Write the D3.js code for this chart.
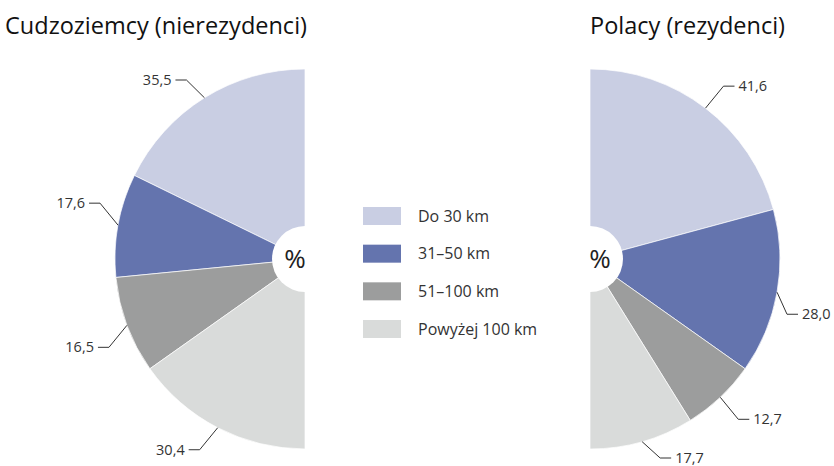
<!DOCTYPE html>
<html>
<head>
<meta charset="utf-8">
<script src="https://cdn.jsdelivr.net/npm/d3@7"></script>
<style>
  body { margin: 0; background: #fff; }
  svg { font-family: "Open Sans", "Noto Sans", sans-serif; }
  .title { font-size: 23.5px; fill: #111; }
  .value-label { font-size: 14.5px; fill: #333; }
  .legend-label { font-size: 16px; fill: #333; }
  .pct { font-size: 26px; fill: #222; }
</style>
</head>
<body>
<div id="chart"></div>
<script>
const categories = ["Do 30 km", "31–50 km", "51–100 km", "Powyżej 100 km"];
const foreignValues = [35.5, 17.6, 16.5, 30.4];
const polishValues = [41.6, 28.0, 12.7, 17.7];
const titles = ["Cudzoziemcy (nierezydenci)", "Polacy (rezydenci)"];
const colors = ["#c9cee3", "#6474ae", "#9c9d9d", "#d9dbda"];

const width = 834;
const height = 466;
const radius = 190;
const holeRadius = 33;
const centerY = 259;

const svg = d3.select('#chart').append('svg')
  .attr('width', width)
  .attr('height', height);

const colorScale = d3.scaleOrdinal().domain(categories).range(colors);
const fmt = v => d3.format('.1f')(v).replace('.', ',');

// left: half pie going counter-clockwise from 12 o'clock, right: clockwise
drawHalfPie(foreignValues, 305, -1, titles[0]);
drawHalfPie(polishValues, 590, 1, titles[1]);
drawLegend();

function drawHalfPie(values, cx, side, title) {
  const pie = d3.pie().sort(null).startAngle(0).endAngle(side * Math.PI);
  const arc = d3.arc().innerRadius(0).outerRadius(radius);
  const slices = pie(values);

  const g = svg.append('g')
    .attr('transform', `translate(${cx},${centerY})`);

  g.selectAll('path.slice')
    .data(slices)
    .enter().append('path')
    .attr('class', 'slice')
    .attr('fill', (d, i) => colorScale(categories[i]))
    .attr('stroke', '#fff')
    .attr('stroke-width', 0.7)
    .attr('d', arc);

  // white hole with the unit
  g.append('circle')
    .attr('r', holeRadius)
    .attr('fill', '#fff');

  g.append('text')
    .attr('class', 'pct')
    .attr('x', side * 10)
    .attr('dy', '0.35em')
    .attr('text-anchor', 'middle')
    .text('%');

  // leader lines: diagonal out of the slice middle, then a short horizontal tick
  const maxOut = side < 0 ? cx - 45 : width - cx - 47;
  const leaders = slices.map(d => {
    const a = (d.startAngle + d.endAngle) / 2;
    const edge = [Math.sin(a) * radius, -Math.cos(a) * radius];
    const up = edge[1] < 0 ? -1 : 1;
    const bend = [edge[0] + side * 18, edge[1] + up * 22];
    bend[1] = Math.max(-centerY + 80, Math.min(height - centerY - 8, bend[1]));
    bend[0] = side * Math.min(Math.abs(bend[0]), maxOut);
    const end = [bend[0] + side * 11, bend[1]];
    return { d, edge, bend, end };
  });

  g.selectAll('polyline.leader')
    .data(leaders)
    .enter().append('polyline')
    .attr('class', 'leader')
    .attr('fill', 'none')
    .attr('stroke', '#333')
    .attr('stroke-width', 1)
    .attr('points', l => [l.edge, l.bend, l.end].map(p => p.join(',')).join(' '));

  g.selectAll('text.value-label')
    .data(leaders)
    .enter().append('text')
    .attr('class', 'value-label')
    .attr('x', l => l.end[0] + side * 4)
    .attr('y', l => l.end[1])
    .attr('dy', '0.35em')
    .attr('text-anchor', side < 0 ? 'end' : 'start')
    .text(l => fmt(l.d.value));

  svg.append('text')
    .attr('class', 'title')
    .attr('x', side < 0 ? cx + 2 : cx)
    .attr('y', 34)
    .attr('text-anchor', side < 0 ? 'end' : 'start')
    .text(title);
}

function drawLegend() {
  const y = d3.scalePoint().domain(categories).range([207, 320]);

  const items = svg.append('g')
    .attr('class', 'legend')
    .selectAll('g')
    .data(categories)
    .enter().append('g')
    .attr('transform', d => `translate(363,${y(d)})`);

  items.append('rect')
    .attr('width', 38)
    .attr('height', 18)
    .attr('fill', d => colorScale(d));

  items.append('text')
    .attr('class', 'legend-label')
    .attr('x', 55)
    .attr('y', 9)
    .attr('dy', '0.35em')
    .text(d => d);
}
</script>
</body>
</html>
